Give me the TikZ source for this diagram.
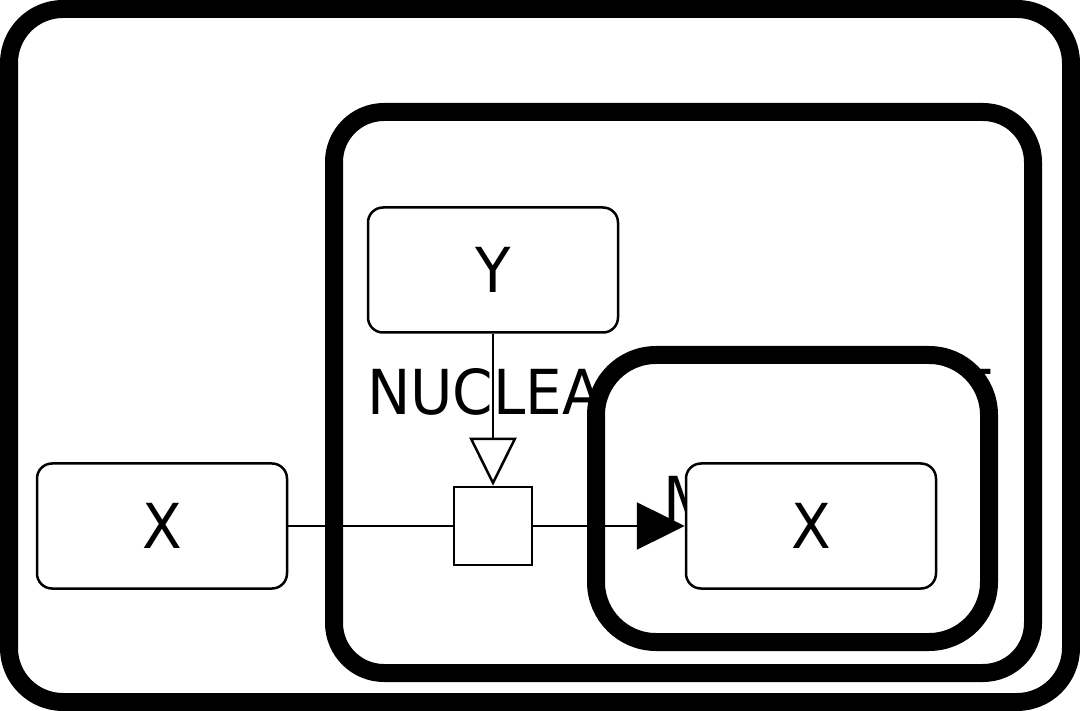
\documentclass[tikz,border=0pt]{standalone}
\usepackage{fontspec}
\usetikzlibrary{arrows.meta}
\newfontfamily\lblfont[FakeStretch=0.935]{DejaVu Sans}
\tikzset{
  comp/.style={draw=black, fill=white, line width=18pt},
  entity/.style={draw=black, fill=white, line width=2.5pt, rounded corners=15pt,
    minimum width=250pt, minimum height=125pt, inner sep=0pt,
    font=\lblfont\fontsize{62}{62}\selectfont},
  procbox/.style={draw=black, fill=white, line width=2.5pt, minimum size=78pt, inner sep=0pt},
  complabel/.style={font=\lblfont\fontsize{62}{62}\selectfont, inner sep=0pt, anchor=base west},
  arc/.style={line width=2.5pt, draw=black}
}
\begin{document}
\begin{tikzpicture}[x=1pt,y=-1pt]
\useasboundingbox (0,0) rectangle (1080,711);
\fill[white] (0,0) rectangle (1080,711);
% outer compartment
\draw[comp, rounded corners=54pt] (9,9) rectangle (1071,702);
% nucleus compartment
\draw[comp, rounded corners=50pt] (334,112) rectangle (1033,673);
\node[complabel] (nuclabel) at (367,415) {NUCLEAR MEMBRANE};
% inner compartment
\draw[comp, rounded corners=60pt] (596,355) rectangle (989,642);
\node[complabel] (mlabel) at (663,521) {MATRIX};
% entities
\node[entity] (xl) at (162,526) {X};
\node[entity] (y) at (493,270) {Y};
\node[entity] (xr) at (811,526) {X};
\node[procbox] (p) at (493,526) {};
% arcs
\draw[arc] (xl.east) -- (p.west);
\draw[arc, -{Triangle[length=48pt, width=47pt]}] (p.east) -- (xr.west);
\draw[arc, -{Triangle[open, length=48pt, width=47pt, fill=white]}] (y.south) -- (p.north);
\end{tikzpicture}
\end{document}
